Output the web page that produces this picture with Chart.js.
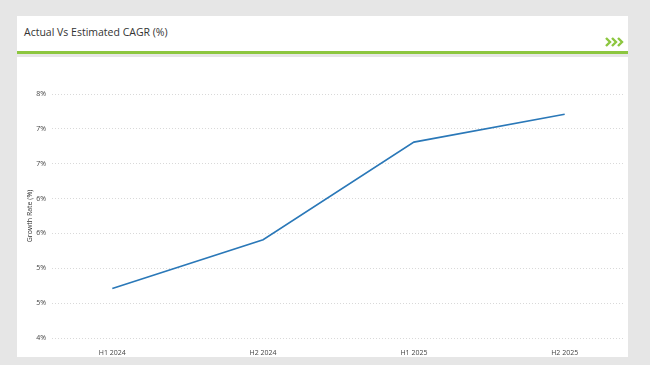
<!DOCTYPE html>
<html lang="en">
<head>
    <meta charset="UTF-8">
    <title>Actual Vs Estimated CAGR</title>
    <script src="https://cdn.jsdelivr.net/npm/chart.js"></script>
    <style>
        html, body { margin: 0; padding: 0; }
        body { width: 650px; height: 365px; background: #e6e6e6; position: relative; overflow: hidden; font-family: 'Open Sans', sans-serif; }
        .head { position: absolute; left: 17px; top: 16px; width: 611px; height: 35px; background: #fff; }
        .head h1 { margin: 0; position: absolute; left: 7px; top: 9px; font-size: 10.5px; font-weight: normal; color: #333; }
        .head svg { position: absolute; right: 3px; top: 21px; }
        .bar { position: absolute; left: 17px; top: 51px; width: 611px; height: 3px; background: #8cc63f; }
        .panel { position: absolute; left: 17px; top: 57px; width: 611px; height: 300px; background: #fff; }
    </style>
</head>
<body>
    <div class="head">
        <h1>Actual Vs Estimated CAGR (%)</h1>
        <svg width="20" height="10" viewBox="0 0 20 10">
            <polyline points="1,1 5,5 1,9" fill="none" stroke="#8cc63f" stroke-width="2.4"/>
            <polyline points="7,1 11,5 7,9" fill="none" stroke="#8cc63f" stroke-width="2.4"/>
            <polyline points="13,1 17,5 13,9" fill="none" stroke="#8cc63f" stroke-width="2.4"/>
        </svg>
    </div>
    <div class="bar"></div>
    <div class="panel">
        <canvas id="cagrChart" width="611" height="300"></canvas>
    </div>

    <script>
        // periods and growth rate values (%)
        const periods = ['H1 2024', 'H2 2024', 'H1 2025', 'H2 2025'];
        const growthRate = [4.71, 5.41, 6.81, 7.21];
        const yMin = 4, yMax = 7.5, yStep = 0.5;

        const ctx = document.getElementById('cagrChart').getContext('2d');

        new Chart(ctx, {
            type: 'line',
            data: {
                datasets: [{
                    label: 'Growth Rate',
                    data: growthRate.map((v, i) => ({ x: i, y: v })),
                    borderColor: '#2a78b8',
                    borderWidth: 1.6,
                    pointRadius: 0,
                    fill: false,
                    tension: 0,
                }],
            },
            options: {
                responsive: false,
                animation: false,
                layout: { padding: { top: 37, right: 3, left: 0, bottom: 0 } },
                plugins: { legend: { display: false }, tooltip: { enabled: false } },
                scales: {
                    x: {
                        type: 'linear',
                        min: -0.4,
                        max: periods.length - 0.6,
                        afterBuildTicks: scale => {
                            scale.ticks = periods.map((p, i) => ({ value: i }));
                        },
                        afterFit: scale => { scale.height = 19; },
                        ticks: {
                            callback: v => periods[v],
                            color: '#444',
                            font: { family: 'Open Sans', size: 7 },
                            maxRotation: 0,
                            padding: 3,
                        },
                        grid: { display: false },
                        border: { display: false },
                    },
                    y: {
                        min: yMin,
                        max: yMax,
                        afterFit: scale => { scale.width = 35; },
                        ticks: {
                            stepSize: yStep,
                            callback: v => Math.round(v) + '%',
                            color: '#444',
                            font: { family: 'Open Sans', size: 7 },
                            padding: 6,
                        },
                        title: {
                            display: true,
                            text: 'Growth Rate (%)',
                            color: '#333',
                            font: { family: 'Open Sans', size: 7 },
                            padding: { top: 9, bottom: 0 },
                        },
                        grid: {
                            color: '#d9d9d9',
                            drawTicks: false,
                        },
                        border: { display: false, dash: [1, 2] },
                    },
                },
            },
        });
    </script>
</body>
</html>
